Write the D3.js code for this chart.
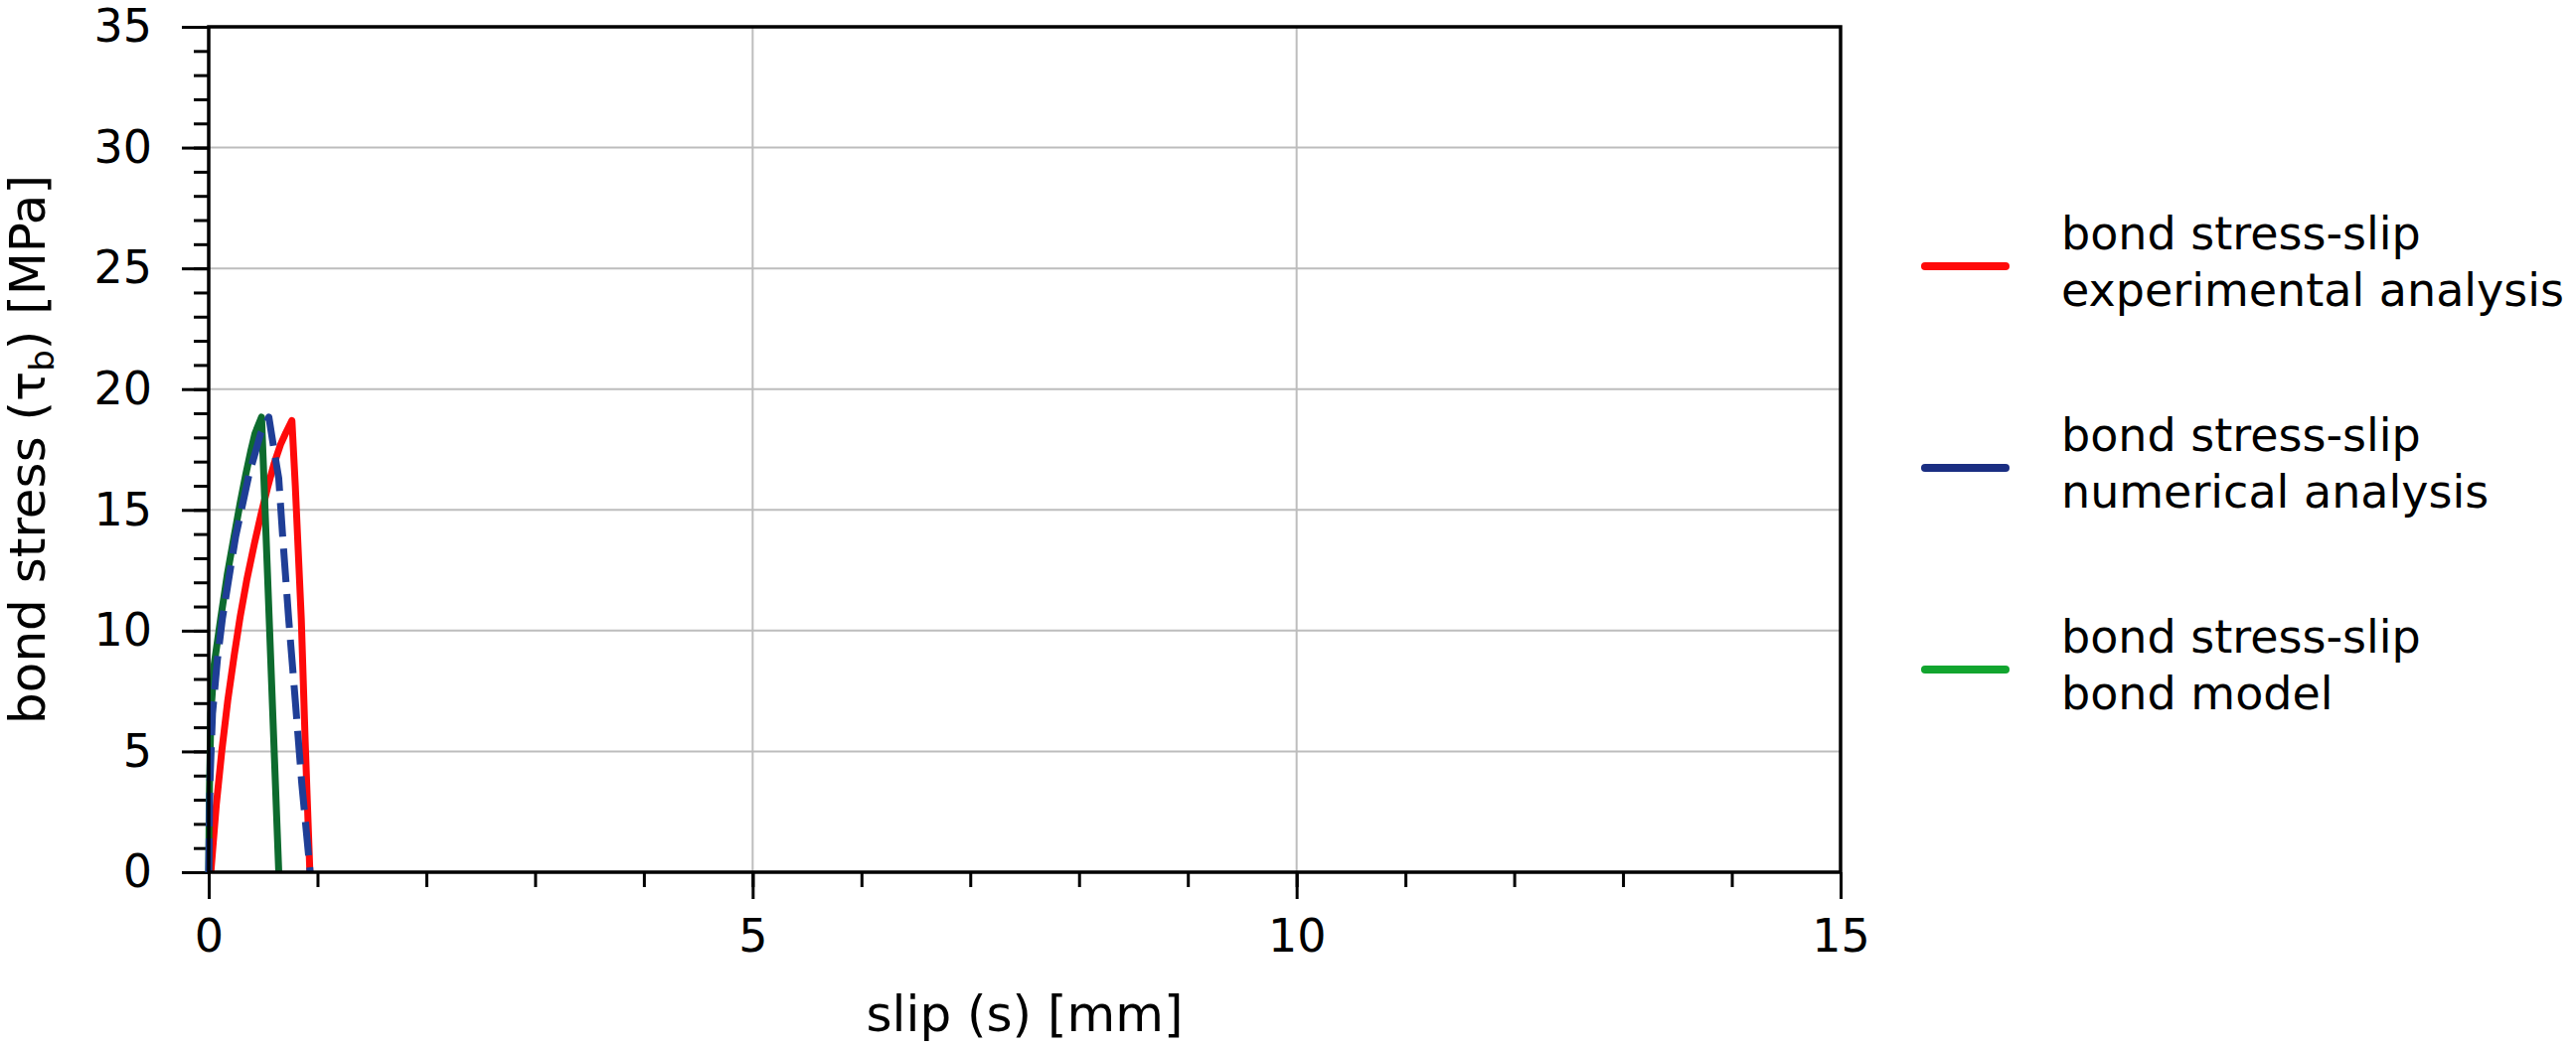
<!DOCTYPE html>
<html>
<head>
<meta charset="utf-8">
<script src="https://cdn.jsdelivr.net/npm/d3@7"></script>
<style>
  body { margin: 0; background: #fff; }
  svg { display: block; font-family: "DejaVu Sans", Verdana, sans-serif; }
</style>
</head>
<body>
<script>
// bond stress-slip curves: slip [mm], stress [MPa]
var expSlip   = [0.02, 0.07, 0.12, 0.175, 0.235, 0.29, 0.35, 0.42, 0.48, 0.54, 0.60, 0.66, 0.71, 0.765, 0.796, 0.851, 0.887, 0.93];
var expStress = [0,    2.8,  5.0,  7.1,   9.0,   10.6, 12.1, 13.6, 14.8, 15.9, 16.9, 17.7, 18.2, 18.7,  16.0,  10.5,  5.4,   0];

var numSlip   = [0, 0.011, 0.035, 0.08, 0.126, 0.19, 0.248, 0.31, 0.37,  0.43, 0.477, 0.553, 0.60, 0.644, 0.68, 0.735, 0.796, 0.855, 0.933];
var numStress = [0, 3.66,  6.56,  8.8,  10.5,  12.3, 13.9,  15.2, 16.45, 17.4, 18.16, 18.84, 17.5, 16.3,  13.9, 10.5,  7.1,   3.7,   0];

var modelSlip   = [0, 0.005, 0.02, 0.05, 0.11, 0.17, 0.233, 0.29, 0.34,  0.385, 0.425, 0.486, 0.644];
var modelStress = [0, 3.0,   6.56, 8.6,  10.5, 12.3, 13.9,  15.3, 16.45, 17.4,  18.16, 18.84, 0];

var seriesNames = ["experimental analysis", "numerical analysis", "bond model"];
var xTicks = [0, 5, 10, 15];
var yTicks = [0, 5, 10, 15, 20, 25, 30, 35];

var W = 2592, H = 1056;
// plot box (window.top is reserved, so keep these in an object)
var box = { left: 210, right: 1852, top: 27, bottom: 878 };

var svg = d3.select("body").append("svg")
    .attr("width", W)
    .attr("height", H);

svg.append("rect").attr("width", W).attr("height", H).attr("fill", "#fff");

var x = d3.scaleLinear().domain([0, 15]).range([box.left, box.right]);
var y = d3.scaleLinear().domain([0, 35]).range([box.bottom, box.top]);

// grid lines
var grid = svg.append("g").attr("stroke", "#bdbdbd").attr("stroke-width", 2);
grid.selectAll(".gx").data(xTicks.slice(1, -1)).enter().append("line")
    .attr("x1", d => x(d)).attr("x2", d => x(d))
    .attr("y1", box.top).attr("y2", box.bottom);
grid.selectAll(".gy").data(yTicks.slice(1, -1)).enter().append("line")
    .attr("x1", box.left).attr("x2", box.right)
    .attr("y1", d => y(d)).attr("y2", d => y(d));

// minor ticks every 1 unit, major ticks with labels
var xMinor = svg.append("g").attr("transform", "translate(0," + box.bottom + ")")
    .call(d3.axisBottom(x).tickValues(d3.range(0, 16)).tickSize(15).tickFormat(""));
var xMajor = svg.append("g").attr("transform", "translate(0," + box.bottom + ")")
    .call(d3.axisBottom(x).tickValues(xTicks).tickSize(27).tickPadding(20).tickFormat(d3.format("d")));
var yMinor = svg.append("g").attr("transform", "translate(" + box.left + ",0)")
    .call(d3.axisLeft(y).tickValues(d3.range(0, 36)).tickSize(15).tickFormat(""));
var yMajor = svg.append("g").attr("transform", "translate(" + box.left + ",0)")
    .call(d3.axisLeft(y).tickValues(yTicks).tickSize(27).tickPadding(30).tickFormat(d3.format("d")));

[xMinor, xMajor, yMinor, yMajor].forEach(function (g) {
    g.select(".domain").remove();
    g.selectAll(".tick line").attr("stroke", "#000").attr("stroke-width", 3);
    g.selectAll(".tick text").attr("font-size", 46).attr("fill", "#000")
        .attr("font-family", "DejaVu Sans, Verdana, sans-serif");
});

// curves
var line = d3.line()
    .x(d => x(d[0]))
    .y(d => y(d[1]));

var series = [
    { slip: expSlip, stress: expStress, color: "#ff0a0a", legend: "#ff0a0a", dash: null },
    { slip: modelSlip, stress: modelStress, color: "#0d6b2e", legend: "#12a52f", dash: null },
    { slip: numSlip, stress: numStress, color: "#1f3e96", legend: "#1a2e82", dash: "34,12" }
];

series.forEach(function (s) {
    var pts = s.slip.map((v, i) => [v, s.stress[i]]);
    svg.append("path")
        .datum(pts)
        .attr("d", line)
        .attr("fill", "none")
        .attr("stroke", s.color)
        .attr("stroke-width", 7)
        .attr("stroke-linejoin", "round")
        .attr("stroke-dasharray", s.dash);
});

// plot frame
svg.append("rect")
    .attr("x", box.left).attr("y", box.top)
    .attr("width", box.right - box.left).attr("height", box.bottom - box.top)
    .attr("fill", "none").attr("stroke", "#000").attr("stroke-width", 3.5);

// axis titles
svg.append("text")
    .attr("x", (box.left + box.right) / 2).attr("y", 1038)
    .attr("text-anchor", "middle").attr("font-size", 50)
    .text("slip (s) [mm]");

var yTitle = svg.append("text")
    .attr("transform", "translate(45," + ((box.top + box.bottom) / 2) + ") rotate(-90)")
    .attr("text-anchor", "middle").attr("font-size", 50);
yTitle.append("tspan").text("bond stress (τ");
yTitle.append("tspan").attr("font-size", 34).attr("dy", 9).text("b");
yTitle.append("tspan").attr("dy", -9).text(")  [MPa]");

// legend
var legendOrder = [series[0], series[2], series[1]];
var legend = svg.append("g").selectAll("g")
    .data(legendOrder)
    .enter().append("g")
    .attr("transform", (d, i) => "translate(0," + (268 + i * 203) + ")");

legend.append("line")
    .attr("x1", 1937).attr("x2", 2018)
    .attr("stroke", d => d.legend)
    .attr("stroke-width", 8)
    .attr("stroke-linecap", "round");

var lt = legend.append("text").attr("font-size", 46).attr("fill", "#000");
lt.append("tspan").attr("x", 2074).attr("y", -17).text("bond stress-slip");
lt.append("tspan").attr("x", 2074).attr("y", 40).text((d, i) => seriesNames[i]);
</script>
</body>
</html>
